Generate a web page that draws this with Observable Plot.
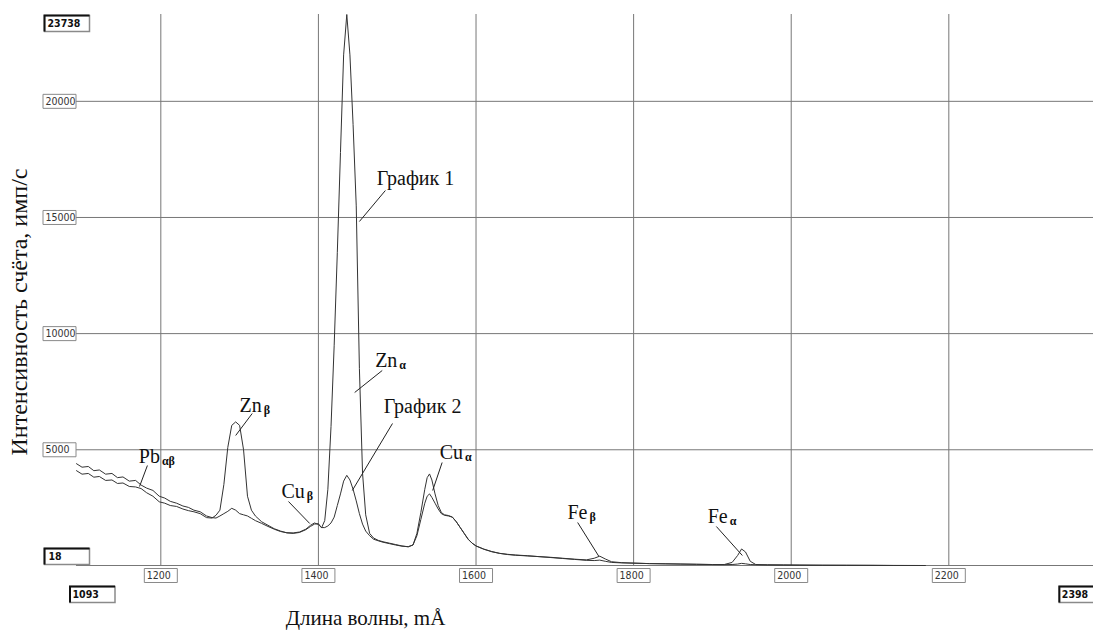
<!DOCTYPE html>
<html><head><meta charset="utf-8">
<script src="https://cdn.jsdelivr.net/npm/d3@7"></script>
<script src="https://cdn.jsdelivr.net/npm/@observablehq/plot@0.6"></script>
<style>
html,body{margin:0;padding:0;background:#fff;overflow:hidden;}
#chart{width:1093px;height:637px;}
</style></head><body><div id="chart"></div>
<script>
// ---- data ----
const wavelength = [
 1093,1100,1108,1115,1122,1130,1138,1145,1152,1160,
 1168,1175,1182,1190,1198,1205,1212,1220,1228,1235,
 1242,1250,1258,1265,1270,1275,1280,1285,1290,1295,
 1300,1305,1310,1315,1320,1328,1336,1344,1352,1360,
 1368,1376,1384,1390,1395,1400,1404,1408,1412,1416,
 1420,1424,1428,1432,1436,1440,1444,1448,1452,1456,
 1460,1465,1470,1476,1482,1490,1498,1506,1514,1520,
 1525,1530,1535,1538,1541,1544,1548,1552,1556,1560,
 1565,1570,1575,1580,1585,1590,1595,1600,1610,1620,
 1630,1640,1650,1665,1680,1695,1710,1725,1740,1750,
 1757,1764,1772,1785,1800,1820,1840,1860,1880,1900,
 1915,1925,1932,1937,1942,1948,1955,1970,1990,2010,
 2040,2070,2100,2130,2170];
const graph1 = [
 4100,3950,3980,3820,3850,3680,3700,3550,3570,3420,
 3400,3330,3150,3000,2760,2700,2600,2560,2450,2380,
 2330,2250,2080,2060,2180,2400,3500,5100,6050,6200,
 6050,5000,3000,2400,2150,1900,1750,1600,1500,1420,
 1400,1440,1560,1700,1800,1820,1640,1950,3300,6000,
 9500,13500,17800,22000,23738,22000,19000,15500,8500,4000,
 2200,1400,1200,1100,1040,980,920,860,820,900,
 1400,2300,3300,3800,3960,3700,3100,2600,2300,2200,
 2170,2100,1900,1650,1400,1150,980,860,720,610,
 540,490,460,430,400,370,330,290,260,330,
 420,300,180,140,120,100,90,80,70,60,
 60,150,450,730,600,200,60,45,40,35,
 30,25,25,20,18];
const graph2 = [
 4400,4250,4280,4100,4130,3950,3980,3800,3830,3650,
 3680,3480,3350,3250,3000,2920,2780,2700,2580,2520,
 2400,2330,2150,2080,2060,2150,2250,2350,2480,2400,
 2250,2200,2150,2050,1950,1830,1700,1580,1480,1430,
 1420,1460,1580,1750,1850,1780,1650,1650,1720,1850,
 2100,2600,3100,3650,3900,3700,3300,2800,2250,1800,
 1500,1300,1150,1080,1020,960,900,850,830,900,
 1300,2000,2700,3000,3100,2950,2700,2450,2250,2180,
 2150,2100,1900,1650,1400,1150,980,860,720,620,
 540,500,470,440,400,360,320,280,240,230,
 250,200,150,130,120,100,90,80,70,60,
 55,60,80,110,90,60,50,45,40,35,
 30,30,25,20,18];
const xTicks = [1200,1400,1600,1800,2000,2200];
const yTicks = [5000,10000,15000,20000];
const xExtent = [1093, 2398];
const yExtent = [18, 23738];
const xTitle = "Длина волны, mÅ";
const yTitle = "Интенсивность счёта, имп/с";
const labelText = ["График 1","Zn","График 2","Cu","Fe","Fe","Zn","Cu","Pb"];
const labelSub  = ["","α","","α","β","α","β","β","αβ"];
const labelX    = [1474,1472,1483,1554,1716,1894,1300,1353,1172];
const labelY    = [16377,8542,6562,4624,2041,1869,6605,2945,4452];
const leaderX1  = [1485,1481,1494,1557,1729,1905,1316,1362,1183];
const leaderY1  = [16162,8413,6131,4452,1869,1697,6562,2773,4323];
const leaderX2  = [1452,1446,1443,1545,1756,1938,1295,1389,1173];
const leaderY2  = [14827,7466,3247,3247,405,448,5615,1826,3419];

// ---- helpers ----
const rows = wavelength.flatMap((w, i) => [
  {w, v: graph1[i], s: "График 1"},
  {w, v: graph2[i], s: "График 2"}
]);
const ann = labelText.map((t, i) => ({
  text: t, sub: labelSub[i], x: labelX[i], y: labelY[i],
  x1: leaderX1[i], y1: leaderY1[i], x2: leaderX2[i], y2: leaderY2[i]
}));
const serif = "'Liberation Serif','Times New Roman',Times,serif";
const narrow = "'Liberation Sans Narrow','Arial Narrow','DejaVu Sans Condensed',Arial,sans-serif";
const mctx = document.createElement("canvas").getContext("2d");
mctx.font = "20px 'Liberation Serif'";
const textW = t => mctx.measureText(t).width;

const box = (w, h) => ({draw(ctx) { ctx.rect(-w / 2, -h / 2, w, h); }});
const bevel = (w, h) => ({draw(ctx) { ctx.moveTo(-w / 2, h / 2); ctx.lineTo(-w / 2, -h / 2); ctx.lineTo(w / 2, -h / 2); }});

const gridColor = "#777";
const xRange = [76, 76 + (xExtent[1] - xExtent[0]) * 0.788];

const plot = Plot.plot({
  width: 1093, height: 637,
  marginLeft: 76, marginRight: 0, marginTop: 14, marginBottom: 72,
  x: {domain: xExtent, range: xRange, axis: null},
  y: {domain: yExtent, axis: null},
  style: {background: "white"},
  marks: [
    Plot.gridY(yTicks, {stroke: gridColor, strokeOpacity: 1}),
    Plot.gridX(xTicks, {stroke: gridColor, strokeOpacity: 1}),
    Plot.ruleY([yExtent[0]], {stroke: gridColor}),
    // tick boxes
    Plot.dot(xTicks, {x: d => d, y: () => yExtent[0], dy: 10, symbol: box(33, 14), fill: "white", stroke: "#8a8a8a", strokeWidth: 1}),
    Plot.dot(yTicks, {x: () => xExtent[0], y: d => d, dx: -17, symbol: box(33, 14), fill: "white", stroke: "#8a8a8a", strokeWidth: 1}),
    // special extent boxes
    Plot.dot([yExtent[1]], {x: () => xExtent[0], y: d => d, dx: -9.5, dy: 9, symbol: box(45, 16), fill: "white", stroke: "#8a8a8a"}),
    Plot.dot([yExtent[1]], {x: () => xExtent[0], y: d => d, dx: -9.5, dy: 9, symbol: bevel(45, 16), fill: "none", stroke: "#111", strokeWidth: 2}),
    Plot.dot([yExtent[0]], {x: () => xExtent[0], y: d => d, dx: -9.5, dy: -9, symbol: box(45, 16), fill: "white", stroke: "#8a8a8a"}),
    Plot.dot([yExtent[0]], {x: () => xExtent[0], y: d => d, dx: -9.5, dy: -9, symbol: bevel(45, 16), fill: "none", stroke: "#111", strokeWidth: 2}),
    Plot.dot([xExtent[0]], {x: d => d, y: () => yExtent[0], dx: 16, dy: 29, symbol: box(45, 16), fill: "white", stroke: "#8a8a8a"}),
    Plot.dot([xExtent[0]], {x: d => d, y: () => yExtent[0], dx: 16, dy: 29, symbol: bevel(45, 16), fill: "none", stroke: "#111", strokeWidth: 2}),
    Plot.dot([xExtent[1]], {x: d => d, y: () => yExtent[0], dx: -23, dy: 29, symbol: box(45, 16), fill: "white", stroke: "#8a8a8a"}),
    Plot.dot([xExtent[1]], {x: d => d, y: () => yExtent[0], dx: -23, dy: 29, symbol: bevel(45, 16), fill: "none", stroke: "#111", strokeWidth: 2}),
    // tick labels
    Plot.text(xTicks, {x: d => d, y: () => yExtent[0], dy: 10, dx: -14, text: d => String(d), textAnchor: "start", fontSize: 10.5, fontFamily: narrow, fill: "#333"}),
    Plot.text(yTicks, {x: () => xExtent[0], y: d => d, dx: -31, text: d => String(d), textAnchor: "start", fontSize: 10.5, fontFamily: narrow, fill: "#333"}),
    Plot.text([yExtent[1]], {x: () => xExtent[0], y: d => d, dx: -29, dy: 9, text: d => String(d), textAnchor: "start", fontSize: 10.5, fontWeight: "bold", fontFamily: narrow, fill: "#111"}),
    Plot.text([yExtent[0]], {x: () => xExtent[0], y: d => d, dx: -28, dy: -9, text: d => String(d), textAnchor: "start", fontSize: 10.5, fontWeight: "bold", fontFamily: narrow, fill: "#111"}),
    Plot.text([xExtent[0]], {x: d => d, y: () => yExtent[0], dx: -4, dy: 29, text: d => String(d), textAnchor: "start", fontSize: 10.5, fontWeight: "bold", fontFamily: narrow, fill: "#111"}),
    Plot.text([xExtent[1]], {x: d => d, y: () => yExtent[0], dx: -43, dy: 29, text: d => String(d), textAnchor: "start", fontSize: 10.5, fontWeight: "bold", fontFamily: narrow, fill: "#111"}),
    // spectra
    Plot.line(rows, {x: "w", y: "v", z: "s", stroke: "#333", strokeWidth: 1}),
    // annotations
    Plot.link(ann, {x1: "x1", y1: "y1", x2: "x2", y2: "y2", stroke: "#222", strokeWidth: 1}),
    Plot.text(ann, {x: "x", y: "y", text: "text", textAnchor: "start", lineAnchor: "bottom", fontSize: 20, fontFamily: serif, fill: "#111"}),
    ...ann.filter(a => a.sub).map(a => Plot.text([a], {x: "x", y: "y", text: "sub", dx: textW(a.text) + 2, dy: 2, textAnchor: "start", lineAnchor: "bottom", fontSize: 12, fontWeight: "bold", fontFamily: serif, fill: "#111"})),
    // axis titles
    Plot.text([xTitle], {frameAnchor: "bottom-left", dx: 289, dy: 59, textAnchor: "middle", fontSize: 21, fontFamily: serif, fill: "#111"}),
    Plot.text([yTitle], {frameAnchor: "left", dx: -57, dy: 22, rotate: -90, textAnchor: "middle", fontSize: 24, fontFamily: serif, fill: "#111"})
  ]
});
document.getElementById("chart").appendChild(plot);
</script>
</body></html>
